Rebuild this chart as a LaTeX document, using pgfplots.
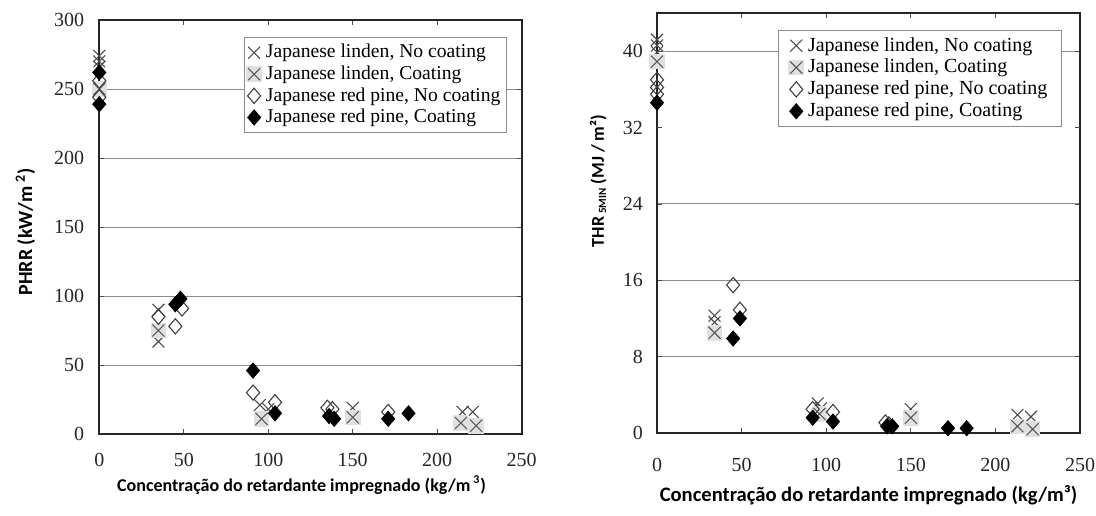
\documentclass[border=0pt]{standalone}
\usepackage{pgfplots}
\pgfplotsset{compat=1.18}
\usepackage{fontspec}
\setmainfont{Liberation Serif}
\newfontfamily\calib{Carlito}

\pgfdeclareplotmark{boxx}{%
  \pgfpathrectangle{\pgfqpoint{-1.3\pgfplotmarksize}{-1.3\pgfplotmarksize}}{\pgfqpoint{2.6\pgfplotmarksize}{2.6\pgfplotmarksize}}%
  \pgfsetfillcolor{black!12}%
  \pgfusepathqfill
  \pgfpathmoveto{\pgfqpoint{-\pgfplotmarksize}{-\pgfplotmarksize}}%
  \pgfpathlineto{\pgfqpoint{\pgfplotmarksize}{\pgfplotmarksize}}%
  \pgfpathmoveto{\pgfqpoint{-\pgfplotmarksize}{\pgfplotmarksize}}%
  \pgfpathlineto{\pgfqpoint{\pgfplotmarksize}{-\pgfplotmarksize}}%
  \pgfusepathqstroke
}

\pgfplotsset{
  common/.style={
    scale only axis,
    anchor=south west,
    xmin=0, xmax=250,
    xtick={0,50,100,150,200,250},
    axis line style={line width=1.1pt, black!85},
    tick style={black!70, thin},
    major tick length=2.5pt,
    ymajorgrids, grid style={black!45, line width=0.5pt},
    /pgf/number format/assume math mode=true,
    ticklabel style={font=\fontsize{10}{12}\selectfont, text=black!85},
    clip=false,
    legend cell align=left,
    legend style={draw=black!45, line width=0.4pt, anchor=north east,
      inner xsep=1pt, inner ysep=1.5pt, row sep=-1.5pt},
  },
  lnc/.style={only marks, mark=x, mark size=4.2pt, draw=black!70, line width=0.55pt},
  lc/.style={only marks, mark=boxx, mark size=3pt, draw=black!65, line width=0.55pt},
  rpnc/.style={only marks, mark=diamond, mark size=3.8pt, mark options={xscale=1.15}, draw=black!75, line width=0.55pt, fill=white},
  rpc/.style={only marks, mark=diamond*, mark size=3.8pt, mark options={xscale=1.15}, draw=black, fill=black},
}

\begin{document}
\begin{tikzpicture}
\useasboundingbox (0,0) rectangle (548pt,257.5pt);

% ---------------- Left: PHRR ----------------
\begin{axis}[common,
  at={(49.65pt,40.5pt)}, width=211.2pt, height=207pt,
  ymin=0, ymax=300, ytick={0,50,100,150,200,250,300},
  xticklabel style={yshift=-6pt},
  yticklabel style={xshift=-4pt},
  legend style={at={(0.965,0.959)}, font=\fontsize{9.8}{11}\selectfont},
  xlabel={\calib\bfseries Concentração do retardante impregnado (kg/m\,\textsuperscript{3})},
  xlabel style={font=\fontsize{9}{10}\selectfont, at={(axis description cs:0.479,-0.123)}, anchor=center},
  ylabel={\calib\bfseries PHRR (kW/m\,\textsuperscript{2})},
  ylabel style={font=\fontsize{10}{11}\selectfont, at={(axis description cs:-0.175,0.488)}, anchor=center, rotate=0},
]
\addplot[lnc] coordinates {(0,274)(0,270)(0,266)(35,90)(35,67)(95,21)(100,18)(150,19)(215,16)(221,16)};
\addlegendentry{Japanese linden, No coating}
\addplot[lc] coordinates {(0,250)(35,75)(96,11)(150,12)(214,8)(223,6)};
\addlegendentry{Japanese linden, Coating}
\addplot[rpnc] coordinates {(0,256)(0,244)(35,85)(45,78)(49,91)(91,30)(104,23)(135,19)(138,18)(171,16)};
\addlegendentry{Japanese red pine, No coating}
\addplot[rpc] coordinates {(0,262)(0,239)(45,94)(48,98)(91,46)(104,15)(136,13)(139,11)(171,11)(183,15)};
\addlegendentry{Japanese red pine, Coating}
\end{axis}

% ---------------- Right: THR ----------------
\begin{axis}[common,
  at={(328.5pt,41pt)}, width=211.5pt, height=210pt,
  ymin=0, ymax=44, ytick={0,8,16,24,40},
  extra y ticks={32}, extra y tick style={grid=none},
  xticklabel style={yshift=-9pt},
  yticklabel style={xshift=-3.5pt},
  legend style={at={(0.957,0.960)}, font=\fontsize{10}{11.5}\selectfont, inner xsep=5pt},
  xlabel={\calib\bfseries Concentração do retardante impregnado (kg/m³)},
  xlabel style={font=\fontsize{10.3}{12}\selectfont, at={(axis description cs:0.5,-0.148)}, anchor=center},
  ylabel={\calib\bfseries THR\,{\fontsize{5.5}{6}\selectfont\raisebox{-1.2pt}{5MIN}} (MJ / m²)},
  ylabel style={font=\fontsize{9}{10}\selectfont, at={(axis description cs:-0.139,0.60)}, anchor=center, rotate=0},
]
\addplot[lnc] coordinates {(0,41.2)(0,40.6)(0,39.9)(34,12.3)(34,11.6)(95,3.1)(97,2.6)(150,2.5)(213,1.9)(221,1.7)};
\addlegendentry{Japanese linden, No coating}
\addplot[lc] coordinates {(0,38.9)(34,10.5)(96,2.0)(150,1.6)(213,0.7)(222,0.4)};
\addlegendentry{Japanese linden, Coating}
\addplot[rpnc] coordinates {(0,37.0)(0,36.2)(0,35.5)(45,15.5)(49,12.9)(92,2.5)(104,2.2)(135,1.1)(137,0.9)};
\addlegendentry{Japanese red pine, No coating}
\addplot[rpc] coordinates {(0,34.6)(45,9.9)(49,12.0)(92,1.6)(104,1.2)(136,0.7)(139,0.7)(172,0.5)(183,0.5)};
\addlegendentry{Japanese red pine, Coating}
\end{axis}
\end{tikzpicture}
\end{document}
